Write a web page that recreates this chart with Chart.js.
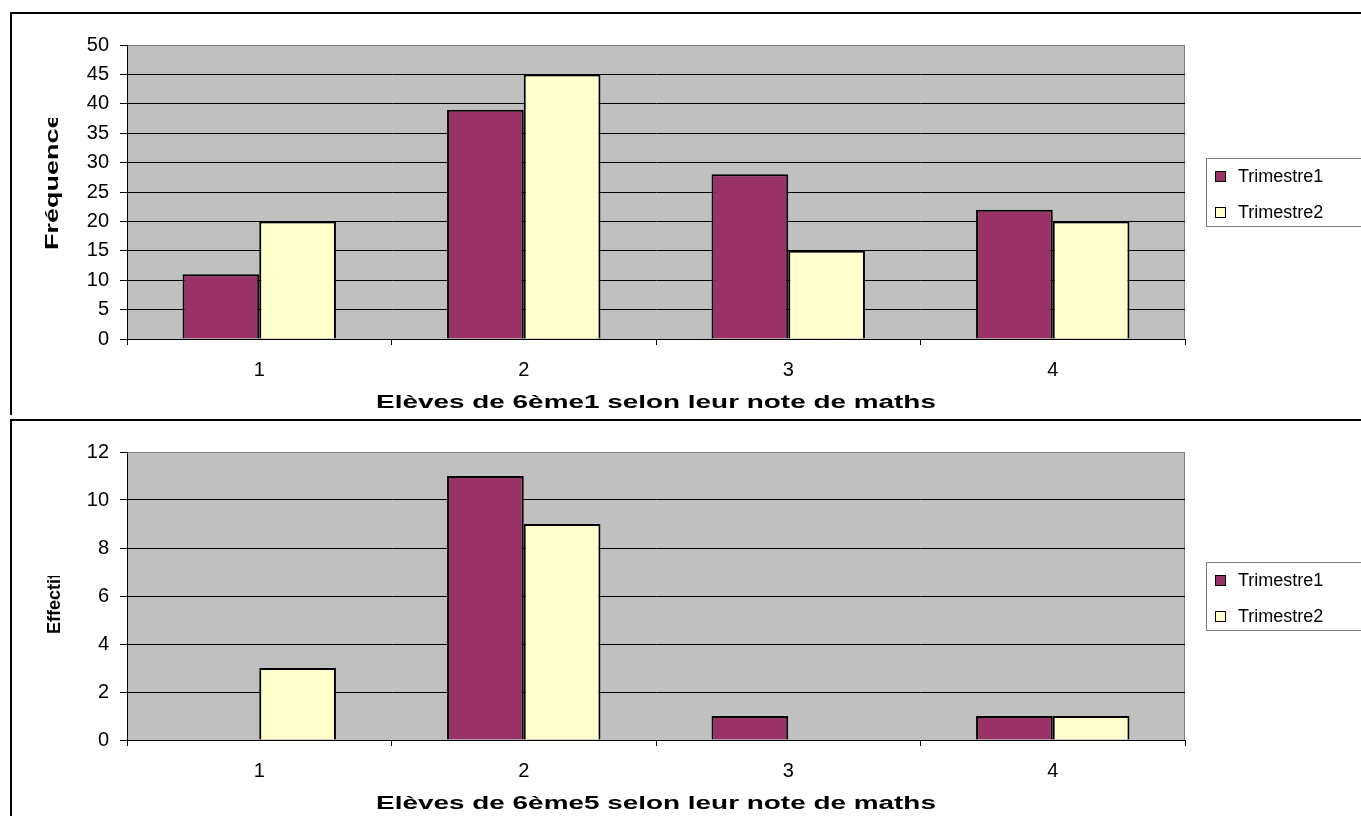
<!DOCTYPE html>
<html>
<head>
<meta charset="utf-8">
<script src="https://cdn.jsdelivr.net/npm/chart.js@4"></script>
<style>
  html, body { margin: 0; padding: 0; background: #fff; overflow: hidden; }
  .box { position: absolute; left: 10px; width: 1420px; border-left: 2px solid #000; border-top: 2px solid #000; }
  #box1 { top: 12px; height: 401px; }
  #box2 { top: 419px; height: 400px; }
  canvas { display: block; }
</style>
</head>
<body>
<div class="box" id="box1"><canvas id="chart1" width="1400" height="399"></canvas></div>
<div class="box" id="box2"><canvas id="chart2" width="1400" height="393"></canvas></div>
<script>
// --- DATA ---
const categories = ['1', '2', '3', '4'];
const seriesNames = ['Trimestre1', 'Trimestre2'];
const classe1Trim1 = [11, 39, 28, 22];
const classe1Trim2 = [20, 45, 15, 20];
const classe5Trim1 = [0, 11, 1, 1];
const classe5Trim2 = [3, 9, 0, 1];

const COLORS = ['#993366', '#FFFFCC'];
const FONT = "'Liberation Sans', Arial, sans-serif";

// grey plot background + Excel-like frame
const plotBackground = {
    id: 'plotBackground',
    beforeDraw(chart) {
        const { ctx, chartArea: a } = chart;
        ctx.save();
        ctx.fillStyle = '#C0C0C0';
        ctx.fillRect(a.left, a.top, a.right - a.left, a.bottom - a.top);
        ctx.strokeStyle = '#808080';
        ctx.lineWidth = 1;
        ctx.strokeRect(a.left + 0.5, a.top + 0.5, a.right - a.left - 1, a.bottom - a.top);
        ctx.restore();
    }
};

// boxed legend on the right, like the spreadsheet one
const boxedLegend = {
    id: 'boxedLegend',
    afterDraw(chart) {
        const { ctx, chartArea: a } = chart;
        const boxH = 68;
        const x = a.right + 21;
        const y = Math.round((a.top + a.bottom) / 2 - boxH / 2);
        ctx.save();
        ctx.strokeStyle = '#808080';
        ctx.lineWidth = 1;
        ctx.strokeRect(x + 0.5, y + 0.5, 300, boxH);
        ctx.font = '18px ' + FONT;
        ctx.textBaseline = 'middle';
        chart.data.datasets.forEach((ds, i) => {
            const cy = y + 18 + i * 36;
            ctx.fillStyle = ds.backgroundColor;
            ctx.fillRect(x + 9, cy - 5, 11, 11);
            ctx.strokeStyle = '#000';
            ctx.strokeRect(x + 9.5, cy - 4.5, 10, 10);
            ctx.fillStyle = '#000';
            ctx.fillText(ds.label, x + 32, cy + 1);
        });
        ctx.restore();
    }
};

// axis titles: the original renders them wide and clips the y one at the top
const axisTitles = {
    id: 'axisTitles',
    afterDraw(chart, args, opts) {
        const { ctx, chartArea: a } = chart;
        ctx.save();
        ctx.font = 'bold 18px ' + FONT;
        ctx.fillStyle = '#000';
        ctx.textBaseline = 'middle';

        ctx.save();
        ctx.textAlign = 'center';
        ctx.translate((a.left + a.right) / 2, a.bottom + 64);
        ctx.scale(opts.xStretch, 1);
        ctx.fillText(opts.xTitle, 0, 0);
        ctx.restore();

        ctx.save();
        ctx.beginPath();
        ctx.rect(0, opts.yClipTop, a.left, chart.height);
        ctx.clip();
        ctx.textAlign = 'left';
        ctx.translate(opts.yX, opts.yBottom);
        ctx.rotate(-Math.PI / 2);
        ctx.scale(opts.yStretch, 1);
        ctx.fillText(opts.yTitle, 0, 0);
        ctx.restore();

        ctx.restore();
    }
};

function makeChart(id, trim1, trim2, yMax, yStep, titles) {
    const ctx = document.getElementById(id).getContext('2d');
    return new Chart(ctx, {
        type: 'bar',
        data: {
            labels: categories,
            datasets: [
                { label: seriesNames[0], data: trim1, backgroundColor: COLORS[0], borderColor: '#000', borderWidth: 2 },
                { label: seriesNames[1], data: trim2, backgroundColor: COLORS[1], borderColor: '#000', borderWidth: 2 }
            ]
        },
        options: {
            responsive: false,
            animation: false,
            devicePixelRatio: 1,
            layout: { padding: { top: 31, right: 227, left: 0, bottom: 0 } },
            datasets: { bar: { categoryPercentage: 0.58, barPercentage: 1 } },
            plugins: {
                legend: { display: false },
                tooltip: { enabled: false },
                axisTitles: titles
            },
            scales: {
                x: {
                    afterFit: (scale) => { scale.height = 74; },
                    grid: { drawOnChartArea: false, color: '#000', tickLength: 6 },
                    border: { color: '#000', width: 1 },
                    ticks: { color: '#000', font: { family: FONT, size: 20 }, padding: 13 }
                },
                y: {
                    min: 0,
                    max: yMax,
                    afterFit: (scale) => { scale.width = 115; },
                    grid: {
                        color: (c) => (c.tick && c.tick.value === yMax) ? 'rgba(0,0,0,0)' : '#000',
                        tickColor: '#000',
                        tickLength: 7
                    },
                    border: { color: '#000', width: 1 },
                    ticks: { stepSize: yStep, color: '#000', font: { family: FONT, size: 20 }, padding: 11 }
                }
            }
        },
        plugins: [plotBackground, boxedLegend, axisTitles]
    });
}

makeChart('chart1', classe1Trim1, classe1Trim2, 50, 5, {
    xTitle: 'Elèves de 6ème1 selon leur note de maths', xStretch: 1.55,
    yTitle: 'Fréquence', yStretch: 1.5, yX: 41, yBottom: 236, yClipTop: 104
});
makeChart('chart2', classe5Trim1, classe5Trim2, 12, 2, {
    xTitle: 'Elèves de 6ème5 selon leur note de maths', xStretch: 1.55,
    yTitle: 'Effectif', yStretch: 1.0, yX: 43, yBottom: 213, yClipTop: 155
});
</script>
</body>
</html>
